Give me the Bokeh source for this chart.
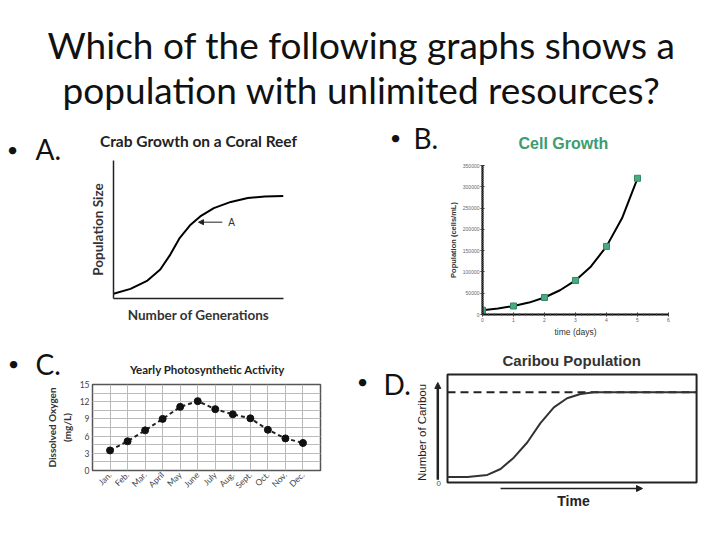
from bokeh.core.properties import value
from bokeh.embed import file_html
from bokeh.layouts import column, row
from bokeh.models import (Arrow, BasicTickFormatter, FixedTicker, Label,
                          NormalHead, Range1d, SingleIntervalTicker)
from bokeh.plotting import figure
from bokeh.resources import INLINE

QUESTION = ["Which of the following graphs shows a",
            "population with unlimited resources?"]
LETTERS = ["A.", "B.", "C.", "D."]

# A. crab growth
crab_gen = [0, 1, 2, 2.75, 3.35, 3.9, 4.5, 5.1, 5.9, 6.9, 7.9, 8.9, 10]
crab_size = [3.5, 7, 13, 21, 32, 44, 53, 59.5, 65.5, 70, 72.8, 74, 74.3]

# B. cell growth
cell_days = [0, 1, 2, 3, 4, 5]
cell_pop = [10000, 20000, 40000, 80000, 160000, 320000]
cell_curve_days = [0, 0.5, 1, 1.5, 2, 2.5, 3, 3.5, 4, 4.5, 5]
cell_curve_pop = [10000, 14000, 20000, 28000, 40000, 57000, 80000,
                  113000, 160000, 226000, 320000]

# C. yearly photosynthetic activity
MONTHS = ["Jan.", "Feb.", "Mar.", "April", "May", "June", "July", "Aug.",
          "Sept.", "Oct.", "Nov.", "Dec."]
oxygen = [3.5, 5.1, 7.0, 9.0, 11.1, 12.1, 10.7, 9.8, 9.1, 7.1, 5.6, 4.8]

# D. caribou population
caribou_time = [0, 0.8, 1.6, 2.13, 2.66, 3.2, 3.73, 4.27, 4.8, 5.34, 5.88, 10]
caribou_count = [5, 5, 7, 12.5, 23, 37, 55, 69.5, 78, 82, 83.6, 83.6]
carrying_capacity = 83.6
time_max = 10
count_max = 100

CAL = "Lato"
ARIAL = "Liberation Sans"
GREEN = "#3d9c70"


def common(p):
    p.outline_line_color = None
    p.grid.grid_line_color = None
    p.background_fill_color = "white"
    p.border_fill_color = "white"
    return p


def chart(w, h, left, right, top, bottom, xr, yr, title=None):
    p = figure(width=w, height=h, x_range=Range1d(*xr), y_range=Range1d(*yr),
               title=title, output_backend="svg", toolbar_location=None, tools="",
               min_border_left=left, min_border_right=right,
               min_border_top=top, min_border_bottom=bottom)
    return common(p)


def text_fig(w, h, x0, y0):
    # blank figure measured in page pixels, y growing downwards
    p = figure(width=w, height=h, x_range=Range1d(x0, x0 + w), y_range=Range1d(y0 + h, y0),
               title=None, x_axis_type=None, y_axis_type=None, output_backend="svg",
               toolbar_location=None, tools="", min_border=0)
    return common(p)


def bullet(p, letter, bx, by, lx, ly):
    p.text(x=[bx], y=[by], text=["\u2022"], text_font=value(CAL), text_font_size="20px",
           text_align="center", text_baseline="middle", text_color="#111")
    p.text(x=[lx], y=[ly], text=[letter], text_font=value(CAL), text_font_size="28px",
           text_align="left", text_baseline="middle", text_color="#111")


def no_ticks(axis):
    axis.ticker = FixedTicker(ticks=[])
    axis.major_tick_line_color = None
    axis.minor_tick_line_color = None
    axis.major_tick_out = 0
    axis.minor_tick_out = 0
    axis.major_label_text_font_size = "0px"
    axis.major_label_standoff = 0


def box(p):
    return column(p)


# question heading
pt = text_fig(716, 118, 0, 0)
pt.text(x=[361, 361], y=[44, 89], text=QUESTION, text_font=value(CAL),
        text_font_size="37px", text_align="center", text_baseline="middle",
        text_color="#111")

# A
ba = text_fig(62, 222, 0, 118)
bullet(ba, LETTERS[0], 12, 148, 35, 148)

pa = chart(296, 222, 51, 75, 39, 42, (0, 10), (0, 100), "Crab Growth on a Coral Reef")
pa.title.align = "center"
pa.title.text_font = CAL
pa.title.text_font_size = "15.5px"
pa.title.text_color = "#222"
pa.title.standoff = 22
pa.line(crab_gen, crab_size, line_color="black", line_width=2)
for ax in (pa.xaxis, pa.yaxis):
    no_ticks(ax)
    ax.axis_line_width = 1.5
    ax.axis_line_color = "#222"
    ax.axis_label_text_font = CAL
    ax.axis_label_text_font_size = "13.5px"
    ax.axis_label_text_font_style = "bold"
    ax.axis_label_text_color = "#333"
    ax.axis_label_standoff = 8
pa.xaxis.axis_label = "Number of Generations"
pa.yaxis.axis_label = "Population Size"
pa.add_layout(Arrow(end=NormalHead(size=5, fill_color="#222", line_color="#222"),
                    x_start=6.4, y_start=55.3, x_end=5.0, y_end=55.3,
                    line_color="#222", line_width=1))
pa.add_layout(Label(x=6.75, y=55.3, text="A", text_font=ARIAL, text_font_size="10px",
                    text_baseline="middle", text_color="#333"))

# B
bb = text_fig(87, 222, 358, 118)
bullet(bb, LETTERS[1], 395, 136, 413, 137)

pb = chart(271, 222, 32, 48, 46, 26, (0, 6), (0, 350000), "Cell Growth")
pb.title.align = "left"
pb.title.offset = 36
pb.title.text_font = ARIAL
pb.title.text_font_size = "16px"
pb.title.text_color = GREEN
pb.title.standoff = 28
pb.line(cell_curve_days, cell_curve_pop, line_color="black", line_width=2)
pb.scatter(cell_days, cell_pop, marker="square", size=6, fill_color="#4aaa80",
           line_color="#2f8a63")
pb.xaxis.ticker = SingleIntervalTicker(interval=1, num_minor_ticks=5)
pb.yaxis.ticker = SingleIntervalTicker(interval=50000, num_minor_ticks=10)
pb.yaxis.formatter = BasicTickFormatter(use_scientific=False)
for ax in (pb.xaxis, pb.yaxis):
    ax.axis_line_width = 2
    ax.axis_line_color = "#111"
    ax.major_tick_in = 2
    ax.major_tick_out = 2
    ax.minor_tick_in = 1
    ax.minor_tick_out = 1
    ax.major_tick_line_color = "#222"
    ax.minor_tick_line_color = "#444"
    ax.major_label_text_font = ARIAL
    ax.major_label_text_font_size = "5px"
    ax.major_label_text_color = "#666"
    ax.major_label_standoff = 1
    ax.axis_label_text_font = ARIAL
    ax.axis_label_text_font_style = "normal"
    ax.axis_label_text_color = "#333"
    ax.axis_label_standoff = 2
pb.xaxis.axis_label = "time (days)"
pb.xaxis.axis_label_text_font_size = "8.5px"
pb.yaxis.axis_label = "Population (cells/mL)"
pb.yaxis.axis_label_text_font_size = "7.5px"
pb.yaxis.axis_label_text_font_style = "bold"

# C
sc = text_fig(350, 40, 0, 340)
bullet(sc, LETTERS[2], 13, 362, 35, 363)
sc.text(x=[207], y=[369], text=["Yearly Photosynthetic Activity"], text_font=value(CAL),
        text_font_size="11.5px", text_font_style="bold", text_align="center",
        text_baseline="middle", text_color="#222")

pc = chart(350, 155, 92, 30, 4, 65, (-1, 12), (0, 15))
pc.outline_line_color = "#555"
pc.outline_line_width = 1.5
pc.xaxis.ticker = FixedTicker(ticks=list(range(len(MONTHS))))
pc.xaxis.major_label_overrides = {i: m for i, m in enumerate(MONTHS)}
pc.xaxis.major_label_orientation = 0.785
pc.yaxis.ticker = SingleIntervalTicker(interval=3, num_minor_ticks=2)
pc.xgrid.grid_line_color = "#bbbbbb"
pc.ygrid.grid_line_color = "#bbbbbb"
pc.ygrid.minor_grid_line_color = "#bbbbbb"
for ax in (pc.xaxis, pc.yaxis):
    ax.axis_line_color = None
    ax.major_tick_line_color = None
    ax.minor_tick_line_color = None
    ax.major_tick_out = 0
    ax.minor_tick_out = 0
    ax.major_label_text_font = CAL
    ax.major_label_text_font_size = "8.5px"
    ax.major_label_text_color = "#444"
    ax.major_label_standoff = 3
pc.line(list(range(len(MONTHS))), oxygen, line_color="#222", line_width=2,
        line_dash="4 3")
pc.scatter(list(range(len(MONTHS))), oxygen, size=7, fill_color="#111",
           line_color="#111")
pc.yaxis.axis_label = "Dissolved Oxygen\n(mg/L)"
pc.yaxis.axis_label_text_font = CAL
pc.yaxis.axis_label_text_font_size = "10px"
pc.yaxis.axis_label_text_font_style = "bold"
pc.yaxis.axis_label_text_color = "#333"
pc.yaxis.axis_label_standoff = 4

# D
bd = text_fig(60, 195, 350, 340)
bullet(bd, LETTERS[3], 362, 380, 383, 383)

pd = chart(306, 195, 20, 0, 32, 43, (-0.683, 10.8), (-9.26, 101.85), "Caribou Population")
pd.title.align = "left"
pd.title.offset = 72
pd.title.text_font = ARIAL
pd.title.text_font_size = "15px"
pd.title.text_color = "#333"
pd.title.standoff = 8
pd.quad(left=[0], right=[time_max], bottom=[0], top=[count_max], fill_color=None,
        line_color="#222", line_width=2)
pd.line([0, time_max], [carrying_capacity, carrying_capacity], line_color="#222",
        line_width=2, line_dash="8 5")
pd.line(caribou_time, caribou_count, line_color="#333", line_width=2)
pd.add_layout(Arrow(end=NormalHead(size=6, fill_color="#222", line_color="#222"),
                    x_start=-0.39, y_start=2.5, x_end=-0.39, y_end=92.6,
                    line_color="#222", line_width=2.5))
pd.add_layout(Arrow(end=NormalHead(size=6, fill_color="#222", line_color="#222"),
                    x_start=2.13, y_start=-5.56, x_end=7.83, y_end=-5.56,
                    line_color="#222", line_width=1.5))
pd.text(x=[-0.35], y=[-1.3], text=["0"], text_font=value(ARIAL), text_font_size="8px",
        text_align="center", text_baseline="middle", text_color="#555")
for ax in (pd.xaxis, pd.yaxis):
    no_ticks(ax)
    ax.axis_line_color = None
    ax.axis_label_text_font = ARIAL
    ax.axis_label_text_color = "#222"
pd.xaxis.axis_label = "Time"
pd.xaxis.axis_label_text_font_size = "14px"
pd.xaxis.axis_label_text_font_style = "bold"
pd.xaxis.axis_label_standoff = 0
pd.yaxis.axis_label = "Number of Caribou"
pd.yaxis.axis_label_text_font_size = "11.5px"
pd.yaxis.axis_label_text_font_style = "normal"
pd.yaxis.axis_label_standoff = 3

layout = column(
    box(pt),
    row(box(ba), box(pa), box(bb), box(pb)),
    row(column(box(sc), box(pc)), box(bd), box(pd)),
)
open("out.html", "w").write(file_html(layout, INLINE))
